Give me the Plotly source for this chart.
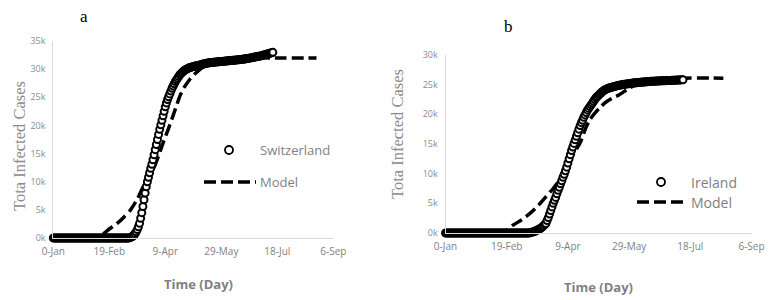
import plotly.graph_objects as go

# ---------------- data ----------------
tick_days = [0, 50, 100, 150, 200, 250]
tick_labels = ["0-Jan", "19-Feb", "9-Apr", "29-May", "18-Jul", "6-Sep"]

swiss_ticks = [0, 5000, 10000, 15000, 20000, 25000, 30000, 35000]
swiss_tick_labels = ["0k", "5k", "10k", "15k", "20k", "25k", "30k", "35k"]
ireland_ticks = [0, 5000, 10000, 15000, 20000, 25000, 30000]
ireland_tick_labels = ["0k", "5k", "10k", "15k", "20k", "25k", "30k"]

# Switzerland observed cumulative cases, one value per day starting at day 0
swiss_cases = [
    0, 0, 0, 0, 0, 0, 0, 0, 0, 0,
    0, 0, 0, 0, 0, 0, 0, 0, 0, 0,
    0, 0, 0, 0, 0, 0, 0, 0, 0, 0,
    0, 0, 0, 0, 0, 0, 0, 0, 0, 0,
    0, 0, 0, 0, 0, 0, 0, 0, 0, 0,
    0, 0, 0, 0, 0, 0, 0, 0, 0, 0,
    0, 0, 0, 0, 0, 0, 0, 0, 50, 100,
    200, 300, 500, 800, 1100, 1500, 2000, 2600, 3500, 4500,
    5600, 6800, 8000, 9100, 10000, 10800, 11600, 12400, 13100, 13900,
    14800, 15700, 16600, 17500, 18400, 19300, 20100, 20900, 21700, 22500,
    23300, 24000, 24600, 25100, 25600, 26100, 26600, 27000, 27400, 27800,
    28100, 28400, 28700, 29000, 29200, 29400, 29600, 29750, 29900, 30000,
    30100, 30200, 30300, 30350, 30400, 30450, 30500, 30550, 30600, 30650,
    30700, 30750, 30800, 30850, 30900, 30950, 31000, 31050, 31100, 31120,
    31150, 31180, 31200, 31220, 31240, 31260, 31280, 31300, 31320, 31340,
    31360, 31380, 31400, 31420, 31440, 31460, 31480, 31500, 31520, 31540,
    31560, 31580, 31600, 31620, 31640, 31660, 31680, 31700, 31720, 31750,
    31780, 31800, 31830, 31870, 31910, 31950, 31990, 32030, 32070, 32110,
    32150, 32190, 32230, 32270, 32310, 32350, 32400, 32450, 32500, 32560,
    32620, 32680, 32740, 32800, 32860, 32920, 32980,
]
swiss_days = list(range(len(swiss_cases)))

swiss_model_days = [0, 40, 45, 50, 57, 63, 69, 75, 80, 85, 89, 94, 98, 102, 106,
                    110, 113, 117, 122, 126, 130, 135, 140, 150, 160, 175, 200, 235]
swiss_model = [0, 100, 800, 1600, 2600, 3700, 5000, 6900, 9000, 10600, 12100, 14600,
               16900, 19000, 21200, 23500, 25200, 26800, 28200, 29100, 29800, 30500,
               31000, 31600, 31900, 32000, 32000, 32000]

# Ireland observed cumulative cases, one value per day starting at day 0
ireland_cases = [
    0, 0, 0, 0, 0, 0, 0, 0, 0, 0,
    0, 0, 0, 0, 0, 0, 0, 0, 0, 0,
    0, 0, 0, 0, 0, 0, 0, 0, 0, 0,
    0, 0, 0, 0, 0, 0, 0, 0, 0, 0,
    0, 0, 0, 0, 0, 0, 0, 0, 0, 0,
    0, 0, 0, 0, 0, 0, 0, 0, 0, 0,
    0, 0, 0, 0, 0, 0, 0, 0, 0, 50,
    100, 150, 200, 300, 400, 500, 600, 700, 850, 1000,
    1200, 1400, 1600, 2100, 2600, 3200, 3800, 4400, 5000, 5500,
    6000, 6600, 7200, 7700, 8300, 8800, 9400, 9900, 10500, 11100,
    11800, 12500, 13200, 13900, 14500, 15100, 15700, 16300, 16900, 17500,
    18100, 18600, 19000, 19500, 19900, 20300, 20700, 21000, 21300, 21600,
    21900, 22200, 22500, 22800, 23000, 23200, 23400, 23600, 23800, 23950,
    24100, 24200, 24300, 24380, 24450, 24520, 24580, 24640, 24700, 24750,
    24800, 24850, 24890, 24930, 24970, 25010, 25050, 25080, 25110, 25140,
    25170, 25200, 25230, 25260, 25290, 25310, 25330, 25350, 25370, 25390,
    25410, 25430, 25450, 25470, 25490, 25510, 25530, 25550, 25560, 25570,
    25580, 25590, 25600, 25610, 25620, 25630, 25640, 25650, 25660, 25670,
    25680, 25690, 25700, 25710, 25720, 25730, 25740, 25750, 25760, 25770,
    25780, 25790, 25800, 25810, 25820,
]
ireland_days = list(range(len(ireland_cases)))

ireland_model_days = [0, 45, 50, 55, 62, 69, 76, 82, 88, 93, 97, 102, 106, 110, 115,
                      118, 122, 126, 130, 136, 142, 150, 160, 170, 180, 194, 227]
ireland_model = [0, 200, 500, 1300, 2200, 3300, 4700, 6100, 7500, 8900, 10500, 12400,
                 13800, 15200, 17900, 19100, 20200, 21100, 21900, 22700, 23300, 24400,
                 25400, 25800, 26000, 26100, 26100]

# ---------------- figure ----------------
W, H = 769, 300


def px(x):
    return x / W


def py(y):
    return 1 - y / H


DASH = "12px,5px"
GRAY = "#7f7f7f"
AXIS = "#d9d9d9"

fig = go.Figure()

marker_style = dict(symbol="circle", size=7, color="white", line=dict(color="black", width=2))

fig.add_trace(go.Scatter(x=swiss_model_days, y=swiss_model, mode="lines",
                         line=dict(color="black", width=3.5, dash=DASH, shape="spline", smoothing=0.6),
                         xaxis="x", yaxis="y", showlegend=False, cliponaxis=False))
fig.add_trace(go.Scatter(x=swiss_days, y=swiss_cases, mode="markers", marker=marker_style,
                         xaxis="x", yaxis="y", showlegend=False, cliponaxis=False))

fig.add_trace(go.Scatter(x=ireland_model_days, y=ireland_model, mode="lines",
                         line=dict(color="black", width=3.5, dash=DASH, shape="spline", smoothing=0.6),
                         xaxis="x2", yaxis="y2", showlegend=False, cliponaxis=False))
fig.add_trace(go.Scatter(x=ireland_days, y=ireland_cases, mode="markers", marker=marker_style,
                         xaxis="x2", yaxis="y2", showlegend=False, cliponaxis=False))

xcommon = dict(range=[0, 250], tickvals=tick_days, ticktext=tick_labels, showgrid=False,
               zeroline=False, showline=True, linecolor=AXIS, linewidth=1, ticks="",
               automargin=False,
               tickfont=dict(family="Open Sans", size=10, color=GRAY), ticklabelstandoff=4)
ycommon = dict(showgrid=False, zeroline=False, showline=True, linecolor=AXIS, linewidth=1,
               ticks="", automargin=False,
               tickfont=dict(family="Open Sans", size=9, color="#8c8c8c"),
               ticklabelstandoff=5)

fig.update_layout(
    template="none",
    width=W, height=H,
    margin=dict(l=0, r=0, t=0, b=0, pad=0),
    paper_bgcolor="white", plot_bgcolor="white",
    xaxis=dict(domain=[px(53.3), px(333.3)], anchor="y", **xcommon),
    yaxis=dict(domain=[py(238), py(41)], anchor="x", range=[0, 35000],
               tickvals=swiss_ticks, ticktext=swiss_tick_labels, **ycommon),
    xaxis2=dict(domain=[px(445.5), px(751.5)], anchor="y2", **xcommon),
    yaxis2=dict(domain=[py(233), py(55)], anchor="x2", range=[0, 30000],
                tickvals=ireland_ticks, ticktext=ireland_tick_labels, **ycommon),
)

ann = []
# panel letters
ann.append(dict(x=px(84), y=py(16), text="a", font=dict(family="Liberation Serif", size=17, color="black")))
ann.append(dict(x=px(508), y=py(27), text="b", font=dict(family="Liberation Serif", size=17, color="black")))
# axis titles
ytitle_font = dict(family="Liberation Serif", size=16.5, color="#8a8a8a")
ann.append(dict(x=px(19), y=py(146), text="Tota Infected Cases", textangle=-90, font=ytitle_font))
ann.append(dict(x=px(397), y=py(134), text="Tota Infected Cases", textangle=-90, font=ytitle_font))
xtitle_font = dict(family="Open Sans", size=13, color=GRAY)
ann.append(dict(x=px(198), y=py(284), text="<b>Time (Day)</b>", font=xtitle_font))
ann.append(dict(x=px(598.5), y=py(287), text="<b>Time (Day)</b>", font=xtitle_font))
# legend texts
ann.append(dict(x=px(258), y=py(150), text="Switzerland", xanchor="left",
                font=dict(family="Open Sans", size=13, color=GRAY)))
ann.append(dict(x=px(258), y=py(182), text="Model", xanchor="left",
                font=dict(family="Open Sans", size=13, color=GRAY)))
ann.append(dict(x=px(689), y=py(182), text="Ireland", xanchor="left",
                font=dict(family="Open Sans", size=14, color=GRAY)))
ann.append(dict(x=px(689), y=py(202), text="Model", xanchor="left",
                font=dict(family="Open Sans", size=14, color=GRAY)))
for a in ann:
    a.setdefault("xanchor", "center")
    a.update(xref="paper", yref="paper", yanchor="middle", showarrow=False)
fig.update_layout(annotations=ann)

shapes = [
    dict(type="circle", xref="paper", yref="paper", x0=px(225), x1=px(233), y0=py(154), y1=py(146),
         line=dict(color="black", width=1.8), fillcolor="white"),
    dict(type="line", xref="paper", yref="paper", x0=px(204), x1=px(256), y0=py(182), y1=py(182),
         line=dict(color="black", width=3.5, dash=DASH)),
    dict(type="circle", xref="paper", yref="paper", x0=px(657), x1=px(665), y0=py(186), y1=py(178),
         line=dict(color="black", width=1.8), fillcolor="white"),
    dict(type="line", xref="paper", yref="paper", x0=px(637), x1=px(688), y0=py(202), y1=py(202),
         line=dict(color="black", width=3.5, dash=DASH)),
]
fig.update_layout(shapes=shapes)

fig.write_html("out.html", config={"displayModeBar": False},
               post_script="document.body.style.margin='0';document.body.style.overflow='hidden';")
